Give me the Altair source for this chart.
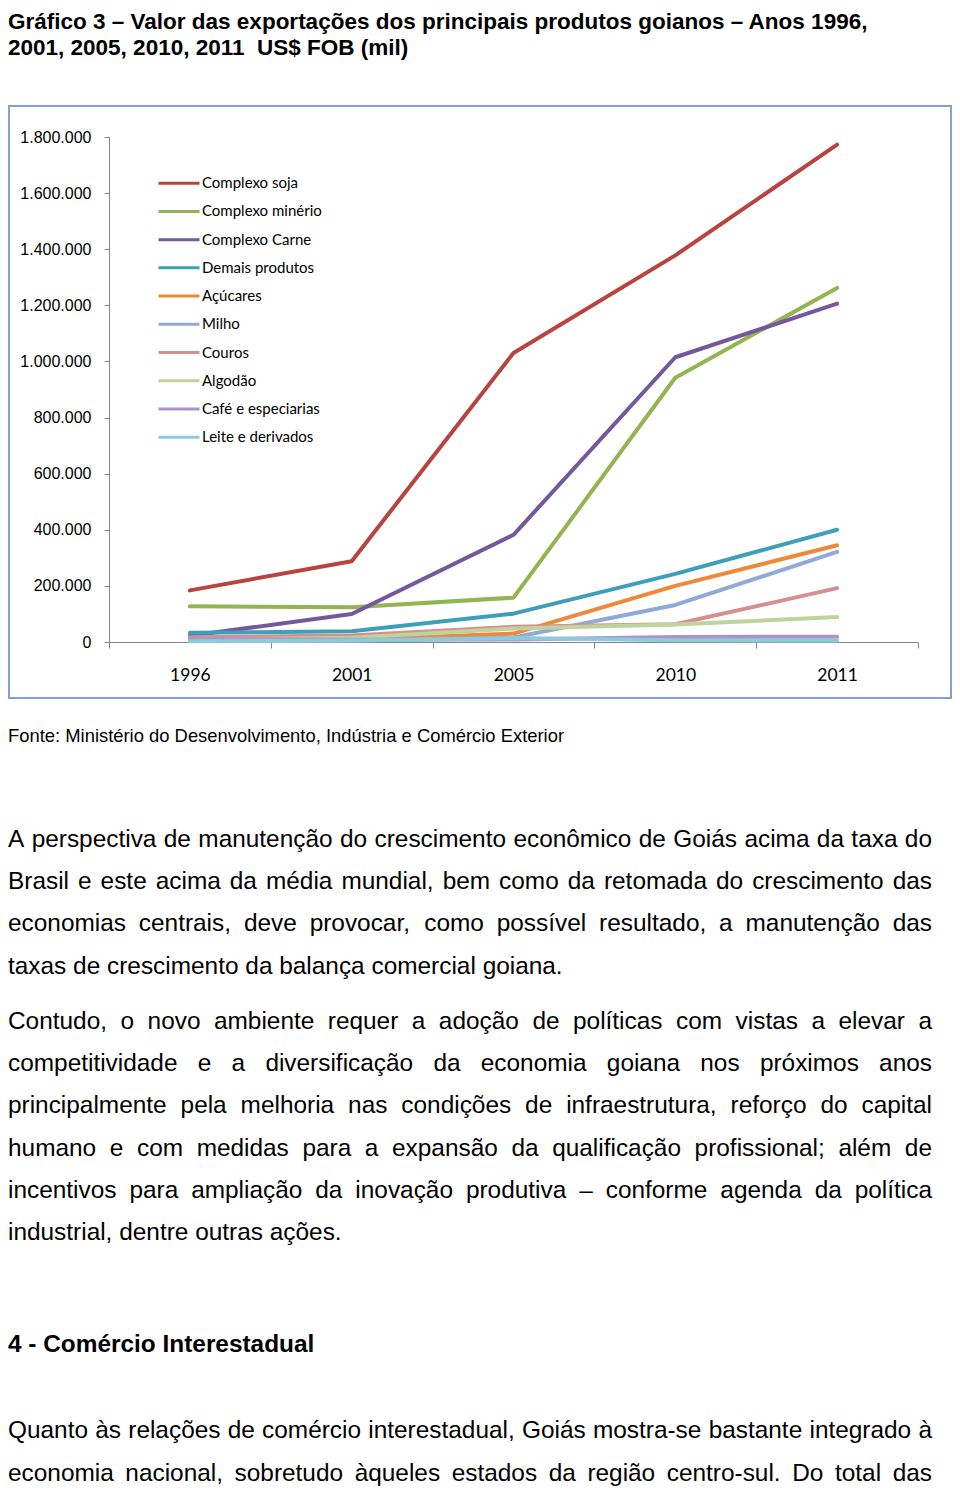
import altair as alt
import pandas as pd

# ---------------- data ----------------
years = ["1996", "2001", "2005", "2010", "2011"]
series = ["Complexo soja", "Complexo minério", "Complexo Carne", "Demais produtos",
          "Açúcares", "Milho", "Couros", "Algodão", "Café e especiarias", "Leite e derivados"]
colors = ["#B8433F", "#92B551", "#75589B", "#3E9FBA", "#F0883A",
          "#8FAAD6", "#D4908F", "#BED49A", "#A995C5", "#8DCADB"]

v_soja = [184000, 288000, 1030000, 1378000, 1773000]
v_minerio = [127000, 124000, 158000, 942000, 1262000]
v_carne = [22000, 100000, 382000, 1015000, 1206000]
v_demais = [33000, 38000, 101000, 243000, 400000]
v_acucares = [6000, 9000, 30000, 200000, 345000]
v_milho = [4000, 5000, 16000, 132000, 321000]
v_couros = [17000, 23000, 54000, 63000, 192000]
v_algodao = [8000, 15000, 48000, 62000, 89000]
v_cafe = [11000, 8000, 9000, 18000, 19000]
v_leite = [3000, 5000, 14000, 6000, 5000]
values = [v_soja, v_minerio, v_carne, v_demais, v_acucares,
          v_milho, v_couros, v_algodao, v_cafe, v_leite]

y_ticks = [0, 200000, 400000, 600000, 800000, 1000000, 1200000, 1400000, 1600000, 1800000]

title_lines = ["Gráfico 3 – Valor das exportações dos principais produtos goianos – Anos 1996,",
               "2001, 2005, 2010, 2011\u00a0 US$ FOB (mil)"]
fonte = "Fonte: Ministério do Desenvolvimento, Indústria e Comércio Exterior"
par1 = ["A perspectiva de manutenção do crescimento econômico de Goiás acima da taxa do",
        "Brasil e este acima da média mundial, bem como da retomada do crescimento das",
        "economias centrais, deve provocar, como possível resultado, a manutenção das",
        "taxas de crescimento da balança comercial goiana."]
par2 = ["Contudo, o novo ambiente requer a adoção de políticas com vistas a elevar a",
        "competitividade e a diversificação da economia goiana nos próximos anos",
        "principalmente pela melhoria nas condições de infraestrutura, reforço do capital",
        "humano e com medidas para a expansão da qualificação profissional; além de",
        "incentivos para ampliação da inovação produtiva – conforme agenda da política",
        "industrial, dentre outras ações."]
heading = "4 - Comércio Interestadual"
par3 = ["Quanto às relações de comércio interestadual, Goiás mostra-se bastante integrado à",
        "economia nacional, sobretudo àqueles estados da região centro-sul. Do total das"]

# ---------------- layout helpers ----------------
W, H = 944, 1478
BODY_FS = 24.4
LEAD = 42.3

# Arial / Liberation Sans advance widths (1/1000 em)
AW = {" ": 278, ",": 278, ".": 278, ":": 278, ";": 278, "-": 333, "–": 556,
      "A": 667, "B": 667, "C": 722, "D": 722, "E": 667, "F": 611, "G": 778, "H": 722,
      "I": 278, "J": 500, "K": 667, "L": 556, "M": 833, "N": 722, "O": 778, "P": 667,
      "Q": 778, "R": 722, "S": 667, "T": 611, "U": 722, "V": 667, "W": 944,
      "a": 556, "b": 556, "c": 500, "d": 556, "e": 556, "f": 278, "g": 556, "h": 556,
      "i": 222, "j": 222, "k": 500, "l": 222, "m": 833, "n": 556, "o": 556, "p": 556,
      "q": 556, "r": 333, "s": 500, "t": 278, "u": 556, "v": 500, "w": 722, "x": 500,
      "y": 500, "z": 500, "á": 556, "à": 556, "â": 556, "ã": 556, "é": 556, "ê": 556,
      "í": 278, "ó": 556, "ô": 556, "õ": 556, "ú": 556, "ç": 500}


def tw(s, fs):
    return sum(AW.get(ch, 556) for ch in s) * fs / 1000.0


def justify(lines, base, fs, left, right, justify_last=False):
    rows = []
    for i, line in enumerate(lines):
        y = base + i * LEAD
        words = line.split(" ")
        do_j = (i < len(lines) - 1) or justify_last
        if do_j and len(words) > 1:
            gap = (right - left - sum(tw(w, fs) for w in words)) / (len(words) - 1)
        else:
            gap = tw(" ", fs)
        x = left
        for w in words:
            rows.append({"word": w, "x": x, "y": y})
            x += tw(w, fs) + gap
    return rows


body_rows = (justify(par1, 838.7, BODY_FS, 0, 924)
             + justify(par2, 1020.7, BODY_FS, 0, 924)
             + justify(par3, 1430.2, BODY_FS, 0, 924, justify_last=True))
body_df = pd.DataFrame(body_rows)

# ---------------- line chart ----------------
long_rows = []
for s, vals in zip(series, values):
    for yr, v in zip(years, vals):
        long_rows.append({"series": s, "year": yr, "value": v})
df = pd.DataFrame(long_rows)

x_enc = alt.X("year:N", sort=years, bandPosition=0.5,
              scale=alt.Scale(type="band", domain=years, range=[101, 910],
                              paddingInner=0, paddingOuter=0),
              axis=alt.Axis(title=None, offset=634 - H, tickBand="extent", tickSize=6,
                            labelPadding=18.7, labelAngle=0, labelFont="Lato",
                            labelFontSize=17.5, labelColor="black", domainColor="#868686",
                            tickColor="#868686", grid=False))
y_enc = alt.Y("value:Q",
              scale=alt.Scale(domain=[0, 1800000], range=[634, 129], nice=False),
              axis=alt.Axis(title=None, values=y_ticks, offset=-101, tickSize=5,
                            labelPadding=13, labelFont="Liberation Sans", labelFontSize=16,
                            labelColor="black", domainColor="#868686", tickColor="#868686",
                            grid=False,
                            labelExpr="replace(format(datum.value, ','), regexp(',', 'g'), '.')"))
c_enc = alt.Color("series:N",
                  scale=alt.Scale(domain=series, range=colors),
                  legend=alt.Legend(orient="none", legendX=149, legendY=161.2, title=None,
                                    direction="vertical", symbolType="stroke",
                                    symbolSize=1681, symbolStrokeWidth=3, clipHeight=28,
                                    rowPadding=0.22, padding=0, labelOffset=1, labelFont="Lato",
                                    labelFontSize=15, labelColor="black"))

base = alt.Chart(df).mark_line(strokeWidth=4, strokeCap="round", strokeJoin="round").encode(
    x=x_enc, y=y_enc, color=c_enc)
line_layers = [base.transform_filter(alt.datum.series == s) for s in series]

one = pd.DataFrame({"a": [0]})
frame = alt.Chart(one).mark_rect(fillOpacity=0, stroke="#7EA3CF", strokeWidth=2).encode(
    x=alt.value(1), x2=alt.value(943), y=alt.value(98), y2=alt.value(690))

title_df = pd.DataFrame({"t": title_lines, "y": [20.5, 46.5]})
title_layer = alt.Chart(title_df).mark_text(
    align="left", baseline="alphabetic", font="Liberation Sans", fontSize=22.5,
    fontWeight="bold", color="black").encode(
    x=alt.value(0), y=alt.Y("y:Q", scale=None, axis=None), text="t:N")

fonte_layer = alt.Chart(pd.DataFrame({"t": [fonte]})).mark_text(
    align="left", baseline="alphabetic", font="Liberation Sans", fontSize=18.4,
    color="black").encode(x=alt.value(0), y=alt.value(733.6), text="t:N")

heading_layer = alt.Chart(pd.DataFrame({"t": [heading]})).mark_text(
    align="left", baseline="alphabetic", font="Liberation Sans", fontSize=BODY_FS,
    fontWeight="bold", color="black").encode(x=alt.value(0), y=alt.value(1344), text="t:N")

body_layer = alt.Chart(body_df).mark_text(
    align="left", baseline="alphabetic", font="Liberation Sans", fontSize=BODY_FS,
    color="black").encode(
    x=alt.X("x:Q", scale=None, axis=None), y=alt.Y("y:Q", scale=None, axis=None),
    text="word:N")

chart = alt.layer(frame, *line_layers, title_layer, fonte_layer, heading_layer, body_layer).properties(
    width=W, height=H, autosize="none", padding=0
).configure_view(strokeWidth=0)

chart.save("out.html", embed_options={"renderer": "svg", "actions": False})
